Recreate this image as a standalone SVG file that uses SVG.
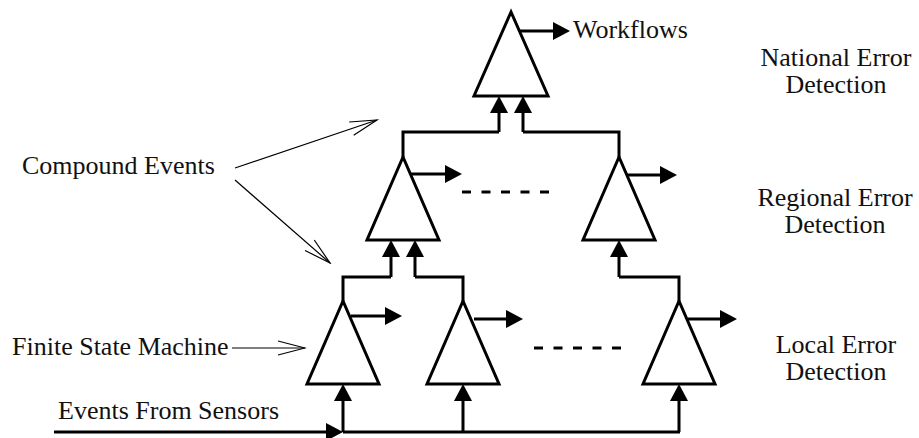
<svg xmlns="http://www.w3.org/2000/svg" width="919" height="438" viewBox="0 0 919 438">
<style>
.tri{fill:#fff;stroke:#000;stroke-width:3;stroke-linejoin:miter}
.w{fill:none;stroke:#000;stroke-width:3}
.thin{fill:none;stroke:#000;stroke-width:1.2}
.dash{fill:none;stroke:#000;stroke-width:3;stroke-dasharray:9 10.5}
text{font-family:"Liberation Serif","Times New Roman",serif;font-size:26px;fill:#111}
.c{text-anchor:middle}
</style>
<defs>
<marker id="ah" viewBox="0 -9 17 18" refX="12" refY="0" markerWidth="17" markerHeight="18" markerUnits="userSpaceOnUse" orient="auto">
<path d="M0,-9 L17,0 L0,9 z" fill="#000"/>
</marker>
<marker id="open" viewBox="-30 -10 32 20" refX="0" refY="0" markerWidth="32" markerHeight="20" markerUnits="userSpaceOnUse" orient="auto">
<path d="M-27,-7 L0,0 L-27,7" fill="none" stroke="#000" stroke-width="1.2"/>
</marker>
</defs>
<g id="connectors">
<path class="w" d="M499,132 V101" marker-end="url(#ah)"/>
<path class="w" d="M523,132 V101" marker-end="url(#ah)"/>
<path class="w" d="M403,157 V132 H499 M523,132 H619 V157"/>
<path class="w" d="M391,277 V245" marker-end="url(#ah)"/>
<path class="w" d="M415,277 V245" marker-end="url(#ah)"/>
<path class="w" d="M343,301 V277 H391 M415,277 H463 V301"/>
<path class="w" d="M619,277 V245" marker-end="url(#ah)"/>
<path class="w" d="M619,277 H679 V301"/>
<path class="w" d="M343,432 V389" marker-end="url(#ah)"/>
<path class="w" d="M463,432 V389" marker-end="url(#ah)"/>
<path class="w" d="M679,432 V389" marker-end="url(#ah)"/>
<path class="w" d="M54,432 H338" marker-end="url(#ah)"/>
<path class="w" d="M343,432 H680"/>
<path class="w" d="M519,31 H565" marker-end="url(#ah)"/>
<path class="w" d="M410,174 H457" marker-end="url(#ah)"/>
<path class="w" d="M627,175 H672" marker-end="url(#ah)"/>
<path class="w" d="M351,316 H397" marker-end="url(#ah)"/>
<path class="w" d="M474,319 H518" marker-end="url(#ah)"/>
<path class="w" d="M688,319 H732" marker-end="url(#ah)"/>
<path class="dash" d="M462,192 H550"/>
<path class="dash" d="M534,348 H622"/>
<path class="thin" d="M235,168 L377,120" marker-end="url(#open)"/>
<path class="thin" d="M235,180 L330,263" marker-end="url(#open)"/>
<path class="thin" d="M232,348 L305,348" marker-end="url(#open)"/>
</g>
<g id="national"><polygon class="tri" points="511,12 474,96 548,96"/></g>
<g id="regional1"><polygon class="tri" points="403,157 367,240 439,240"/></g>
<g id="regional2"><polygon class="tri" points="619,157 583,240 655,240"/></g>
<g id="local1"><polygon class="tri" points="343,301 307,384 379,384"/></g>
<g id="local2"><polygon class="tri" points="463,301 427,384 499,384"/></g>
<g id="local3"><polygon class="tri" points="679,301 643,384 715,384"/></g>
<g id="labels">
<text x="573" y="38">Workflows</text>
<text x="22" y="174">Compound Events</text>
<text x="12" y="355">Finite State Machine</text>
<text x="58" y="419">Events From Sensors</text>
<text class="c" x="836" y="66">National Error</text>
<text class="c" x="836" y="93">Detection</text>
<text class="c" x="835" y="206">Regional Error</text>
<text class="c" x="835" y="233">Detection</text>
<text class="c" x="836" y="353">Local Error</text>
<text class="c" x="836" y="380">Detection</text>
</g>
</svg>
